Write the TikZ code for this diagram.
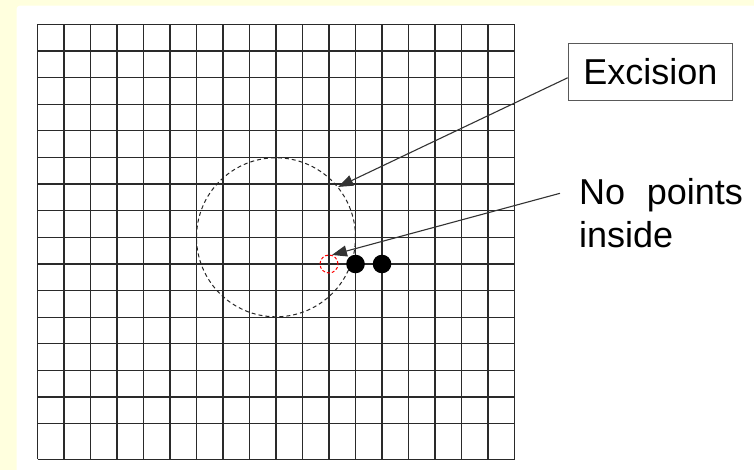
\documentclass[tikz,border=0pt]{standalone}
\usepackage{fontspec}
\setmainfont{Liberation Sans}
\usetikzlibrary{arrows.meta}
\definecolor{page}{HTML}{FFFFDE}
\definecolor{gridline}{HTML}{2A2A2A}
\tikzset{lbl/.style={font=\fontsize{36}{43}\selectfont,inner sep=0pt},callout/.style={draw=black!65,line width=1.2pt,inner xsep=15pt,minimum height=57.4pt},pointer/.style={-{Triangle[length=15pt,width=11pt]},line width=1.1pt,draw=black!80},dot/.style={circle,fill=black,inner sep=0pt,minimum size=18.6pt},gridln/.style={draw=gridline,line width=1.2pt}}
\begin{document}
\begin{tikzpicture}[x=1pt,y=-1pt]
\useasboundingbox (0,0) rectangle (754,470);
\fill[page] (0,0) rectangle (754,470);
\fill[white,rounded corners=3pt] (16.7,5.7) rectangle (764,480);
\foreach \i in {0,...,18} \draw[gridln] ({37.5+26.5*\i},24.5) -- ({37.5+26.5*\i},459.3);
\foreach \j in {0,...,15} \draw[gridln] (37.5,{24.5+26.6*\j}) -- (514.5,{24.5+26.6*\j});
\draw[gridln] (37.5,459.3) -- (514.5,459.3);
\node[circle,draw=black!85,line width=1pt,dash pattern=on 4pt off 3pt,inner sep=0pt,minimum size=159pt] (exc) at (276,237.3) {};
\node[circle,draw=red,line width=1pt,dash pattern=on 3pt off 2pt,inner sep=0pt,minimum size=18pt] (hole) at (329,264) {};
\node[dot] (p1) at (355.5,264) {};
\node[dot] (p2) at (382,264) {};
\node[lbl,callout] (box) at (650.3,72) {Excision};
\node[lbl,align=left,anchor=north west] (nopts) at (579,178) {No\hspace{0.6em}points\\inside};
\coordinate (np) at (560,193.3);
\draw[pointer](box.184)--(exc.39);\draw[pointer](np)--(hole.72);
\end{tikzpicture}
\end{document}
